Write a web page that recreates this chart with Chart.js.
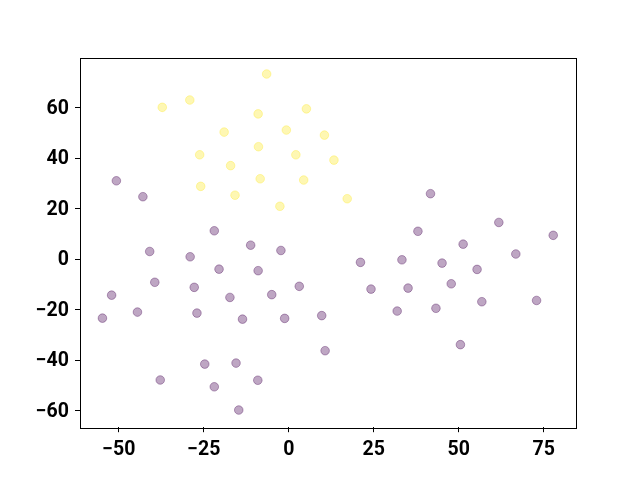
<!DOCTYPE html>
<html>
<head>
<meta charset="utf-8">
<script src="https://cdn.jsdelivr.net/npm/chart.js@4/dist/chart.umd.min.js"></script>
<style>
  html, body { margin: 0; padding: 0; background: #ffffff; }
  #wrap { width: 640px; height: 480px; }
</style>
</head>
<body>
<div id="wrap"><canvas id="c" width="640" height="480"></canvas></div>
<script>
// Cluster 0 (purple)
const purpleX = [-50.7, -42.9, -21.9, -11.2, -2.3, -40.9, -29.0, -20.5, -9.0, -39.4,
                 -27.8, 3.1, -52.1, -17.3, -5.0, -44.5, -54.8, -27.0, -13.6, -1.2,
                 9.7, 10.7, -24.7, -15.5, -37.8, -9.1, -21.9, -14.7,
                 41.7, 61.8, 38.0, 77.8, 51.3, 66.8, 21.1, 33.3, 45.1, 55.4,
                 47.8, 24.2, 35.1, 56.8, 72.9, 31.9, 43.3, 50.5];
const purpleY = [31.0, 24.7, 11.2, 5.5, 3.4, 3.0, 0.9, -4.0, -4.6, -9.2,
                 -11.2, -10.8, -14.3, -15.2, -14.1, -21.0, -23.4, -21.4, -23.8, -23.5,
                 -22.4, -36.3, -41.6, -41.2, -47.9, -48.0, -50.6, -59.8,
                 25.9, 14.5, 11.0, 9.4, 5.9, 2.0, -1.3, -0.3, -1.6, -4.1,
                 -9.8, -11.9, -11.5, -16.9, -16.4, -20.6, -19.5, -33.9];
// Cluster 1 (yellow)
const yellowX = [-6.5, -37.2, -29.1, -9.0, 5.2, -19.0, -0.7, 10.5, -8.9, -26.2,
                 2.1, 13.3, -17.1, -8.4, 4.4, -25.9, -15.8, 17.2, -2.6];
const yellowY = [73.3, 60.1, 63.0, 57.5, 59.5, 50.3, 51.1, 49.1, 44.5, 41.3,
                 41.3, 39.2, 37.0, 31.8, 31.3, 28.8, 25.3, 23.9, 20.9];

const xTicks = [-50, -25, 0, 25, 50, 75];
const yTicks = [-60, -40, -20, 0, 20, 40, 60];
const xRange = [-61.4, 84.5];
const yRange = [-66.6, 79.8];

const toPts = (xs, ys) => xs.map((x, i) => ({ x: x, y: ys[i] }));
const fmt = v => (v < 0 ? '\u2212' + Math.abs(v) : String(v));

const frame = {
  id: 'frame',
  afterDatasetsDraw(chart) {
    const a = chart.chartArea, ctx = chart.ctx;
    ctx.save();
    ctx.strokeStyle = '#000';
    ctx.lineWidth = 1;
    ctx.strokeRect(Math.round(a.left) + 0.5, Math.round(a.top) + 0.5,
                   Math.round(a.right - a.left), Math.round(a.bottom - a.top));
    ctx.restore();
  }
};

const tickFont = { family: 'Roboto', size: 19.5, weight: 'bold' };

new Chart(document.getElementById('c'), {
  type: 'scatter',
  data: {
    datasets: [
      {
        data: toPts(purpleX, purpleY),
        backgroundColor: 'rgba(68,1,84,0.35)',
        borderColor: 'rgba(68,1,84,0.35)',
        borderWidth: 1,
        pointRadius: 4.3,
        pointHoverRadius: 4.3
      },
      {
        data: toPts(yellowX, yellowY),
        backgroundColor: 'rgba(253,231,37,0.35)',
        borderColor: 'rgba(253,231,37,0.35)',
        borderWidth: 1,
        pointRadius: 4.3,
        pointHoverRadius: 4.3
      }
    ]
  },
  options: {
    responsive: false,
    animation: false,
    events: [],
    layout: { padding: { left: 0, right: 64, top: 57.6, bottom: 0 } },
    plugins: { legend: { display: false }, tooltip: { enabled: false } },
    scales: {
      x: {
        type: 'linear',
        min: xRange[0], max: xRange[1],
        afterBuildTicks: s => { s.ticks = xTicks.map(v => ({ value: v })); },
        afterFit: s => { s.height = 52.8; },
        border: { display: false },
        grid: { drawOnChartArea: false, drawTicks: true, tickLength: 5, color: '#000', tickWidth: 1 },
        ticks: { color: '#000', padding: 6.5, maxRotation: 0, autoSkip: false,
                 font: tickFont, callback: fmt }
      },
      y: {
        type: 'linear',
        min: yRange[0], max: yRange[1],
        afterBuildTicks: s => { s.ticks = yTicks.map(v => ({ value: v })); },
        afterFit: s => { s.width = 80; },
        border: { display: false },
        grid: { drawOnChartArea: false, drawTicks: true, tickLength: 5, color: '#000', tickWidth: 1 },
        ticks: { color: '#000', padding: 6, autoSkip: false, labelOffset: 1.5,
                 font: tickFont, callback: fmt }
      }
    }
  },
  plugins: [frame]
});
</script>
</body>
</html>
